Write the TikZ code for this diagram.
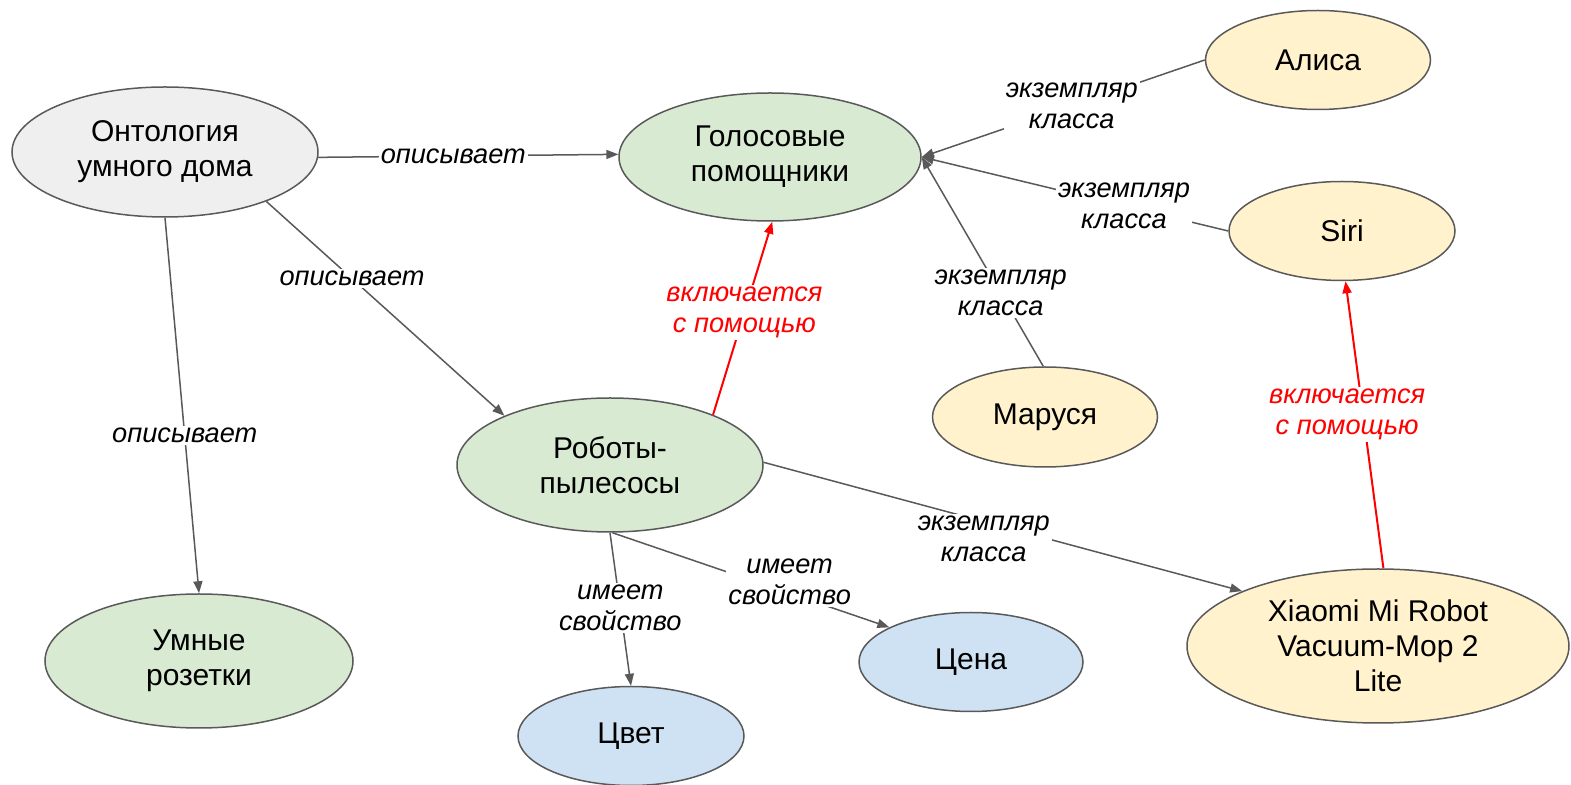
\documentclass[tikz,border=0pt]{standalone}
\usepackage{fontspec}
\setmainfont{Liberation Sans}
\usetikzlibrary{shapes.geometric,arrows.meta}
\definecolor{cgray}{HTML}{EFEFEF}
\definecolor{cgreen}{HTML}{D9EAD3}
\definecolor{cyellow}{HTML}{FFF2CC}
\definecolor{cblue}{HTML}{CFE2F3}
\definecolor{cline}{HTML}{595959}
\definecolor{cred}{HTML}{FF0000}
\tikzset{
  blob/.style={ellipse, draw=cline, line width=0.75pt, inner sep=0pt, align=center,
    font=\fontsize{15}{17.5}\selectfont},
  big/.style={blob, minimum width=153pt, minimum height=65pt},
  small/.style={blob, minimum width=112.5pt, minimum height=49.5pt},
  edge/.style={draw=cline, line width=0.75pt, -{Triangle[length=6pt,width=4.5pt]}},
  redge/.style={draw=cred, line width=1pt, -{Triangle[length=6pt,width=4.5pt]}},
  lbl/.style={fill=white, inner sep=1pt, align=center,
    font=\fontsize{13.6}{15.5}\selectfont\itshape},
  rlbl/.style={lbl, text=cred}
}
\begin{document}
\begin{tikzpicture}[x=0.5pt,y=-0.5pt]
\useasboundingbox (0,0) rectangle (1571,785);

\node[big, fill=cgray] (ont) at (165,152) {Онтология\\умного дома};
\node[big, fill=cgreen, minimum width=151pt, minimum height=64pt] (gol) at (770,157) {Голосовые\\помощники};
\node[small, fill=cyellow] (alisa) at (1318,60) {Алиса};
\node[small, fill=cyellow, minimum width=113pt] (siri) at (1342,231) {Siri};
\node[small, fill=cyellow, minimum height=50pt] (mar) at (1045,417) {Маруся};
\node[big, fill=cgreen, minimum height=67pt] (rob) at (610,465) {Роботы-\\пылесосы};
\node[blob, fill=cyellow, minimum width=191pt, minimum height=77pt] (xia) at (1378,646) {Xiaomi Mi Robot\\Vacuum-Mop 2\\Lite};
\node[big, fill=cgreen, minimum width=154pt, minimum height=67pt] (rozet) at (199,661) {Умные\\розетки};
\node[small, fill=cblue, minimum width=113pt] (cvet) at (631,736) {Цвет};
\node[small, fill=cblue, minimum width=112pt] (cena) at (971,662) {Цена};

\draw[edge] (ont.-2) -- node[lbl,pos=0.45]{описывает} (gol.179);
\draw[edge] (ont.-26) -- node[lbl,pos=0.36]{описывает} (rob.155);
\draw[edge] (ont.-90) -- node[lbl,pos=0.58]{описывает} (rozet.90);
\draw[edge] (alisa.180) -- node[lbl,pos=0.47]{экземпляр\\класса} (gol.0);
\draw[edge] (siri.180) -- node[lbl,pos=0.34]{экземпляр\\класса} (gol.0);
\draw[edge] (mar.92) -- node[lbl,pos=0.35]{экземпляр\\класса} (gol.0);
\draw[redge] (rob.26) -- node[rlbl,pos=0.53]{включается\\с помощью} (gol.-88);
\draw[edge] (rob.1) -- node[lbl,pos=0.46,yshift=-8.5pt]{экземпляр\\класса} (xia.158);
\draw[edge] (rob.-90) -- node[lbl,pos=0.49]{имеет\\свойство} (cvet.90);
\draw[edge] (rob.-88) -- node[lbl,pos=0.64,yshift=5.5pt]{имеет\\свойство} (cena.157);
\draw[redge] (xia.86) -- node[rlbl,pos=0.535,xshift=-8pt]{включается\\с помощью} (siri.-86);
\end{tikzpicture}
\end{document}
